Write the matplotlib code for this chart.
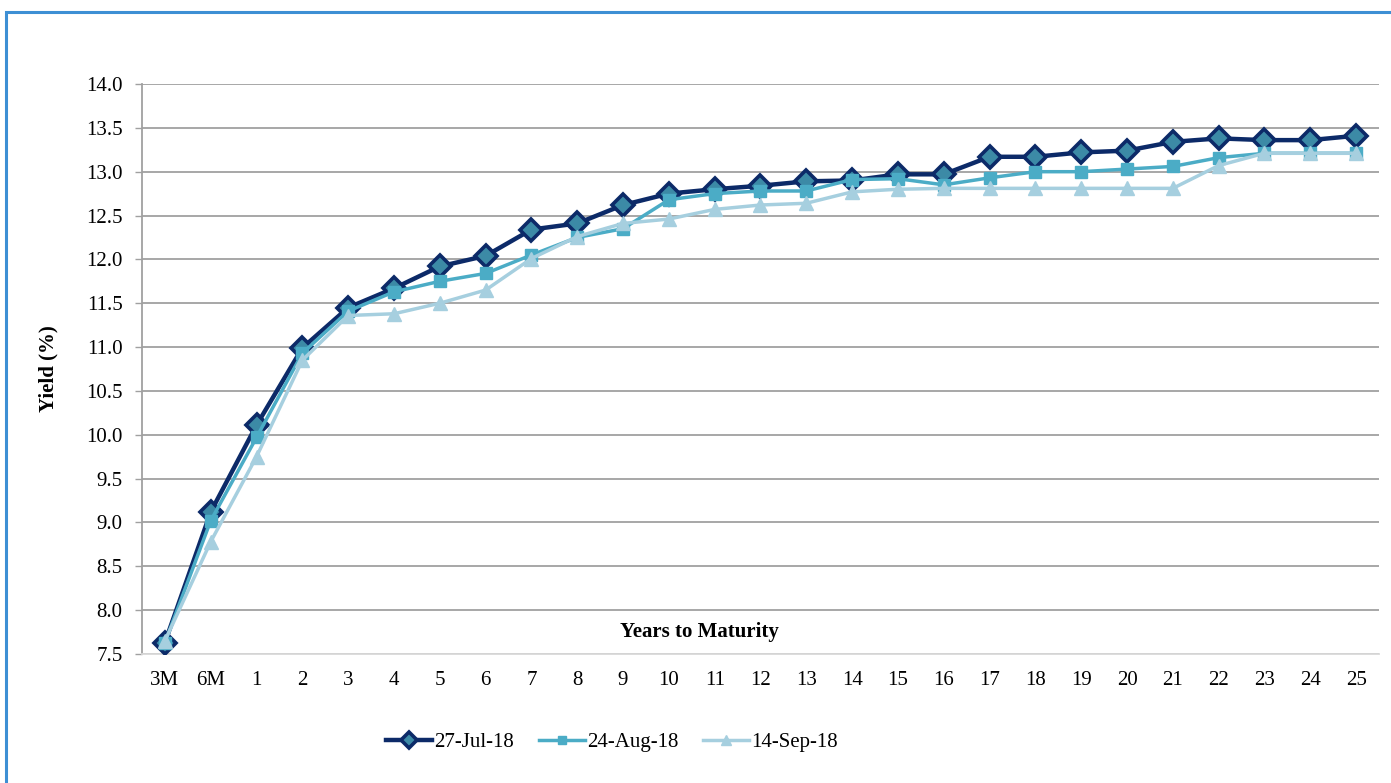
import matplotlib.pyplot as plt
from matplotlib.patches import Rectangle

# Данные кривой доходности
maturities = ['3M', '6M', '1', '2', '3', '4', '5', '6', '7', '8', '9', '10', '11',
              '12', '13', '14', '15', '16', '17', '18', '19', '20', '21', '22', '23', '24', '25']
jul_27 = [7.63, 9.12, 10.11, 10.99, 11.45, 11.67, 11.92, 12.04, 12.34, 12.41, 12.62, 12.75, 12.8,
          12.84, 12.89, 12.9, 12.97, 12.97, 13.17, 13.17, 13.22, 13.24, 13.34, 13.38, 13.36, 13.36, 13.41]
aug_24 = [7.63, 9.02, 9.97, 10.93, 11.41, 11.63, 11.75, 11.84, 12.05, 12.25, 12.35, 12.68, 12.75,
          12.78, 12.78, 12.91, 12.92, 12.85, 12.93, 13.0, 13.0, 13.03, 13.06, 13.16, 13.21, 13.21, 13.21]
sep_14 = [7.65, 8.78, 9.75, 10.85, 11.36, 11.38, 11.5, 11.65, 12.01, 12.26, 12.41, 12.46, 12.57,
          12.62, 12.64, 12.77, 12.8, 12.81, 12.81, 12.81, 12.81, 12.81, 12.81, 13.07, 13.21, 13.21, 13.21]
labels = ['27-Jul-18', '24-Aug-18', '14-Sep-18']

plt.rcParams['font.family'] = ['Liberation Serif', 'DejaVu Serif']

fig = plt.figure(figsize=(13.91, 7.83), dpi=100)
ax = fig.add_axes([142 / 1391, 1 - 654 / 783, (1379 - 142) / 1391, 570 / 783])

x = list(range(len(maturities)))
ax.plot(x, jul_27, color='#0c2a68', linewidth=3.2, marker='D', markersize=11.5,
        markerfacecolor='#3c8aa6', markeredgecolor='#0c2a68', markeredgewidth=2.6,
        label=labels[0], zorder=3)
ax.plot(x, aug_24, color='#4bacc6', linewidth=2.5, marker='s', markersize=8.5,
        label=labels[1], zorder=4)
ax.plot(x, sep_14, color='#a6cfdf', linewidth=2.5, marker='^', markersize=9.5,
        label=labels[2], zorder=5)

ax.set_xlim(-0.5, len(maturities) - 0.5)
ax.set_ylim(7.5, 14.0)
ax.set_xticks(x)
ax.set_xticklabels(maturities)
ax.set_yticks([7.5 + 0.5 * i for i in range(14)])
ax.set_yticklabels([f'{7.5 + 0.5 * i:.1f}' for i in range(14)])
ax.tick_params(axis='x', length=0, labelsize=15, pad=12)
ax.tick_params(axis='y', length=5, width=1, color='#a0a0a0', labelsize=15, pad=9)

ax.grid(axis='y', color='#a0a0a0', linewidth=1.3)
ax.set_axisbelow(True)
for s in ['top', 'right']:
    ax.spines[s].set_visible(False)
ax.spines['left'].set_color('#a0a0a0')
ax.spines['left'].set_linewidth(1.3)
ax.spines['bottom'].set_color('#d9d9d9')
ax.spines['bottom'].set_linewidth(1.3)

ax.set_ylabel('Yield (%)', fontsize=15, fontweight='bold', labelpad=20)
ax.text(0.451, 0.038, 'Years to Maturity', transform=ax.transAxes, ha='center',
        va='center', fontsize=15, fontweight='bold')

fig.legend(loc='center', bbox_to_anchor=(612 / 1391, 1 - 742 / 783), ncol=3,
           frameon=False, fontsize=15, handlelength=2.2, columnspacing=1.2,
           handletextpad=0.1, markerscale=0.7)

# Рамка вокруг графика
fig.patches.append(Rectangle((6 / 1391, -0.1), 1.2, 1 - 12 / 783 + 0.1,
                             transform=fig.transFigure, fill=False,
                             edgecolor='#3d8fd4', linewidth=2.2))

fig.savefig('out.png', dpi=100)
